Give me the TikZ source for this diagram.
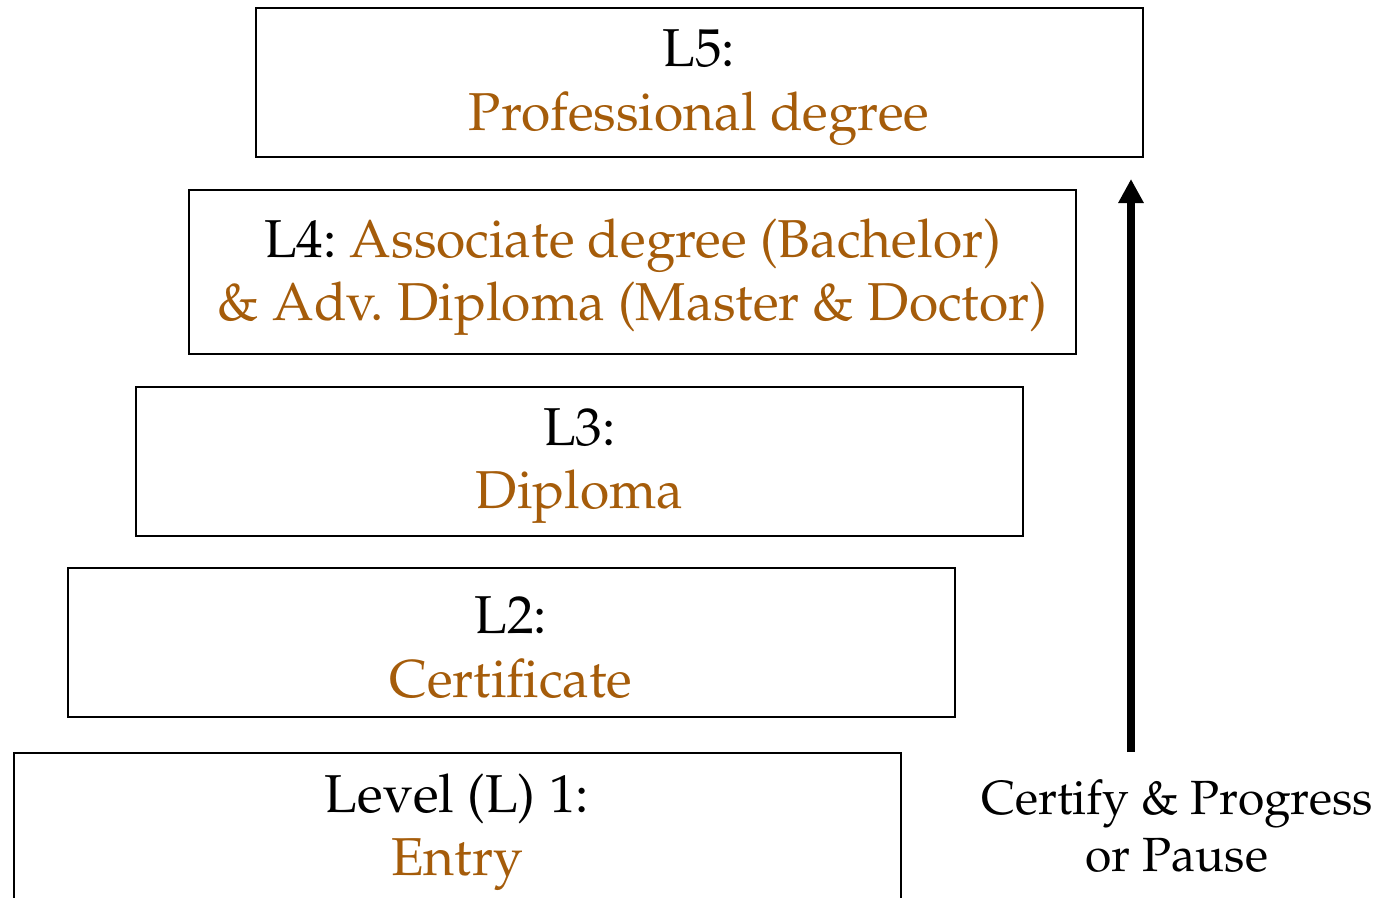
\documentclass[tikz,border=0pt]{standalone}
\usepackage[T1]{fontenc}
\usepackage{mathpazo}
\usetikzlibrary{arrows.meta}
\frenchspacing

\definecolor{degbrown}{RGB}{165,92,10}
\tikzset{every picture/.style={line width=0.75pt}}
\tikzset{lvlbox/.style={draw, line width=1.5pt, minimum width=665.25pt, minimum height=111.75pt, inner sep=0pt},
  lvltext/.style={align=center, inner sep=0pt, font=\fontsize{40}{47.5}\selectfont}}

\begin{document}
\begin{tikzpicture}[x=0.75pt,y=0.75pt,yscale=-1,xscale=1]
%set diagram size
\useasboundingbox (0,0) rectangle (1389,897);

% Level boxes
\node [lvlbox] (lvlfive) at (699,82.5) {};
\node [lvlbox, minimum height=123pt] (lvlfour) at (632.5,272) {};
\node [lvlbox] (lvlthree) at (579.5,461) {};
\node [lvlbox] (lvltwo) at (511,642.5) {};
\node [lvlbox] (lvlone) at (457,827.5) {};

% Level texts
\node [lvltext] (lvlfivetxt) at ([yshift=3.75pt]lvlfive.center) {L5:\\\textcolor{degbrown}{Professional degree}};
\node [lvltext] (lvlfourtxt) at ([yshift=3.75pt]lvlfour.center) {L4: \textcolor{degbrown}{Associate degree (Bachelor)}\\\textcolor{degbrown}{\& Adv. Diploma (Master \& Doctor)}};
\node [lvltext] (lvlthreetxt) at ([yshift=3.75pt]lvlthree.center) {L3:\\\textcolor{degbrown}{Diploma}};
\node [lvltext] (lvltwotxt) at ([yshift=3.75pt]lvltwo.center) {L2:\\\textcolor{degbrown}{Certificate}};
\node [lvltext] (lvlonetxt) at ([yshift=3.75pt]lvlone.center) {Level (L) 1:\\\textcolor{degbrown}{Entry}};

% Progress arrow
\coordinate (arrfoot) at (1131,752);
\coordinate (arrtip) at (1131,179);
\draw [line width=6pt, -{Triangle[width=18pt,length=18pt]}] (arrfoot) -- (arrtip);
% Text Node
\node [lvltext, font=\fontsize{36}{43}\selectfont] (certlbl) at (1177,826) {Certify \& Progress\\or Pause};

\end{tikzpicture}
\end{document}
